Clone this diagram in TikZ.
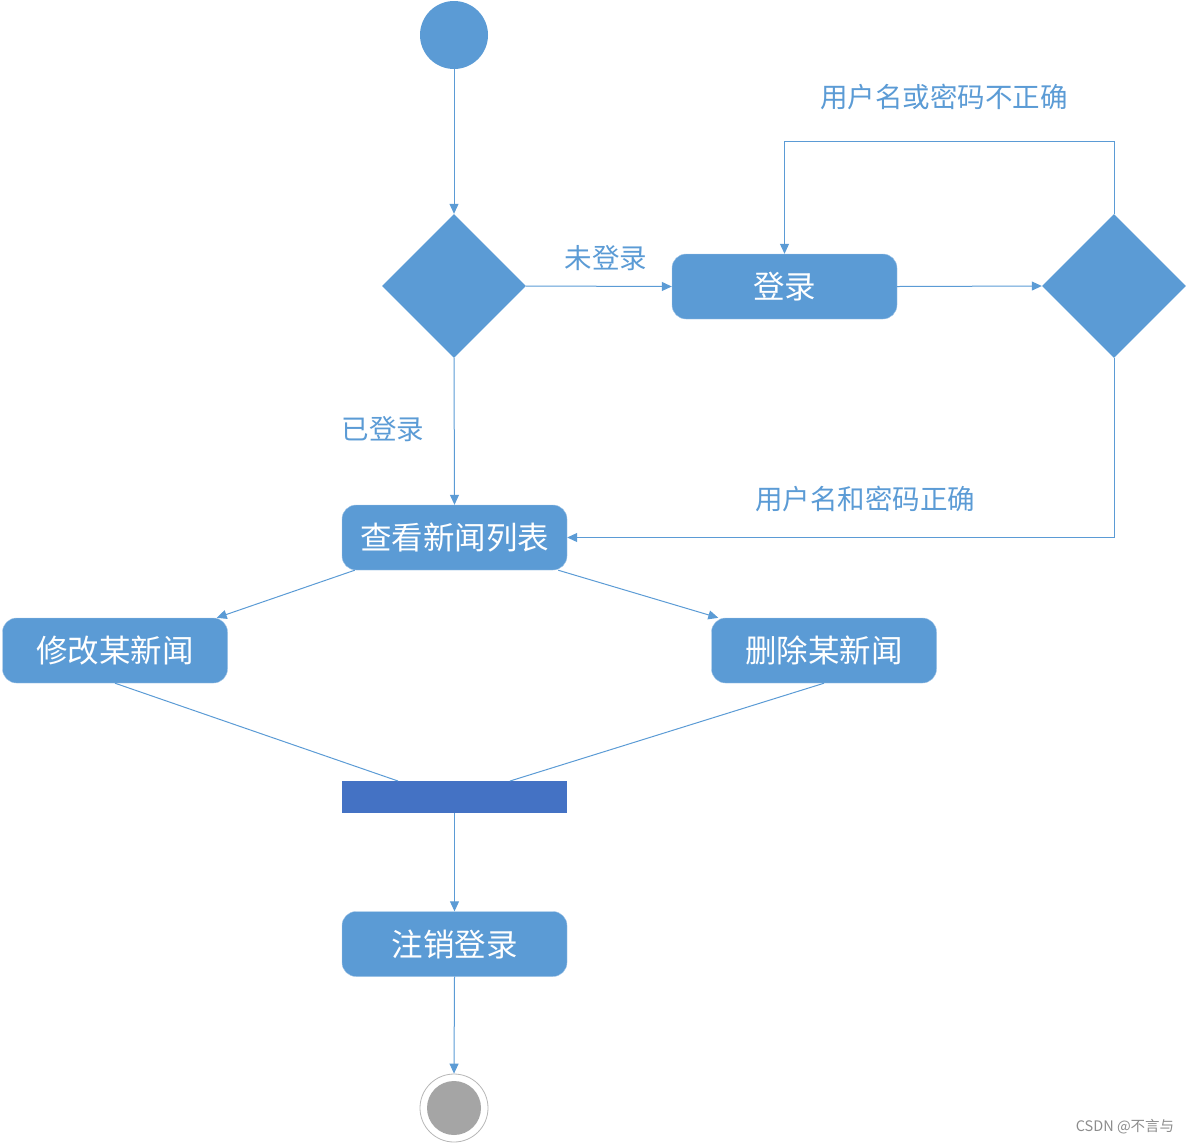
\documentclass[tikz,border=0pt]{standalone}
\usepackage{fontspec}
\newfontfamily\cjk{Noto Sans CJK SC}
\usetikzlibrary{shapes.geometric,arrows.meta,calc}
\definecolor{blu}{HTML}{5B9BD5}
\definecolor{barc}{HTML}{4472C4}
\definecolor{endg}{HTML}{A5A5A5}
\begin{document}
\begin{tikzpicture}[x=1pt,y=-1pt,
 box/.style={draw=blu!55!white, fill=blu, rounded corners=14pt, minimum width=225pt, minimum height=65pt, inner sep=0pt, text=white, font=\cjk\fontsize{31.5}{31.5}\selectfont},
 dec/.style={diamond, fill=blu, minimum size=144pt, inner sep=0pt},
 conn/.style={draw=blu, line width=1pt},
 arr/.style={conn, -{Triangle[length=10pt,width=9pt]}},
 lbl/.style={text=blu, font=\cjk\fontsize{27.5}{27.5}\selectfont}]
\useasboundingbox (0,0) rectangle (1190,1144);
% nodes
\node[circle, fill=blu, minimum size=68pt, inner sep=0pt] (start) at (454,35) {};
\node[dec] (d1) at (454,286) {};
\node[box] (login) at (784.5,286.5) {登录};
\node[dec] (d2) at (1114,286) {};
\node[box] (list) at (454.5,537.5) {查看新闻列表};
\node[box] (mod) at (115,650.5) {修改某新闻};
\node[box] (del) at (824,650.5) {删除某新闻};
\node[rectangle, fill=barc, minimum width=225pt, minimum height=32pt, inner sep=0pt] (bar) at (454.5,797) {};
\node[box] (logout) at (454.5,944) {注销登录};
\node[circle, draw=endg!80!white, line width=0.8pt, fill=white, minimum size=68pt, inner sep=0pt] (endo) at (454,1108) {};
\node[circle, fill=endg, minimum size=54pt, inner sep=0pt] (endi) at (454,1108) {};
% coordinates
\coordinate (looptop) at (1114,141);
\coordinate (loopl) at (784.5,141);
\coordinate (okc) at (1114,537.5);
\coordinate (barl) at (398,781);
\coordinate (barr) at (510,781);
% connectors
\draw[arr] (start.south) -- (d1.north);
\draw[arr] (d1.east) -- (login.west);
\draw[arr] (login.east) -- (d2.west);
\draw[arr] (d2.north) -- (looptop) -- (loopl) -- (login.north);
\draw[arr] (d2.south) -- (okc) -- (list.east);
\draw[arr] (d1.south) -- (list.north);
\draw[arr] ([xshift=13pt]list.south west) -- ([xshift=-11pt]mod.north east);
\draw[arr] ([xshift=-9pt]list.south east) -- ([xshift=7pt]del.north west);
\draw[conn] (mod.south) -- (barl);
\draw[conn] (del.south) -- (barr);
\draw[arr] (bar.south) -- (logout.north);
\draw[arr] (logout.south) -- (endo.north);
% labels
\node[lbl] (l1) at (606,258) {未登录};
\node[lbl] (l2) at (383,429) {已登录};
\node[lbl] (l3) at (944,97) {用户名或密码不正确};
\node[lbl] (l4) at (865,499) {用户名和密码正确};
\node[text=black!45, font=\cjk\fontsize{14.5}{14.5}\selectfont] (wm) at (1125,1127) {CSDN @不言与};
\end{tikzpicture}
\end{document}
